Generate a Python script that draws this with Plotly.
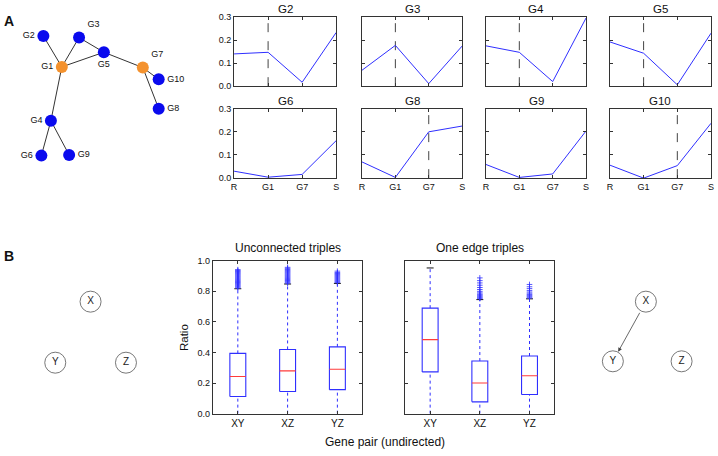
import plotly.graph_objects as go

W, H = 718, 456
FONT = "Liberation Sans, Arial, Helvetica, sans-serif"

# ---------------- Data: panel A network ----------------
node_names = ["G1", "G2", "G3", "G4", "G5", "G6", "G7", "G8", "G9", "G10"]
hub_nodes = ["G1", "G7"]
edges = [("G2", "G1"), ("G3", "G1"), ("G3", "G5"), ("G1", "G5"), ("G5", "G7"),
         ("G7", "G10"), ("G7", "G8"), ("G1", "G4"), ("G4", "G6"), ("G4", "G9")]

# ---------------- Data: panel A profiles ----------------
profile_labels = ["R", "G1", "G7", "S"]
gene_panels = ["G2", "G3", "G4", "G5", "G6", "G8", "G9", "G10"]
vals_G2 = [0.140, 0.147, 0.017, 0.233]
vals_G3 = [0.069, 0.177, 0.011, 0.174]
vals_G4 = [0.175, 0.147, 0.020, 0.296]
vals_G5 = [0.192, 0.143, 0.006, 0.230]
vals_G6 = [0.030, 0.004, 0.016, 0.162]
vals_G8 = [0.070, 0.003, 0.200, 0.225]
vals_G9 = [0.059, 0.003, 0.018, 0.204]
vals_G10 = [0.056, 0.000, 0.054, 0.237]
neighbor_of = {"G2": "G1", "G3": "G1", "G4": "G1", "G5": "G1", "G8": "G7", "G10": "G7"}

# ---------------- Data: panel B boxplots ----------------
pairs = ["XY", "XZ", "YZ"]
unc_lo = [0.0, 0.0, 0.0]
unc_q1 = [0.112, 0.145, 0.157]
unc_med = [0.243, 0.280, 0.290]
unc_q3 = [0.394, 0.420, 0.437]
unc_hi = [0.817, 0.848, 0.852]
unc_out_XY = [0.822, 0.828, 0.834, 0.840, 0.846, 0.852, 0.858, 0.864, 0.870, 0.876, 0.882,
              0.888, 0.894, 0.900, 0.906, 0.912, 0.918, 0.924, 0.930, 0.936, 0.942]
unc_out_XZ = [0.853, 0.859, 0.865, 0.871, 0.877, 0.883, 0.889, 0.895, 0.901, 0.907, 0.913,
              0.919, 0.925, 0.931, 0.937, 0.943, 0.950, 0.957]
unc_out_YZ = [0.857, 0.863, 0.869, 0.875, 0.881, 0.887, 0.893, 0.899, 0.905, 0.911, 0.917,
              0.923, 0.932]

one_lo = [0.0, 0.0, 0.0]
one_q1 = [0.273, 0.077, 0.125]
one_med = [0.484, 0.200, 0.248]
one_q3 = [0.690, 0.344, 0.377]
one_hi = [0.953, 0.746, 0.751]
one_out_XY = []
one_out_XZ = [0.752, 0.758, 0.764, 0.770, 0.776, 0.782, 0.790, 0.800, 0.812, 0.825,
              0.840, 0.855, 0.870, 0.888]
one_out_YZ = [0.756, 0.762, 0.768, 0.774, 0.780, 0.788, 0.796, 0.806, 0.818, 0.830, 0.845]

# ---------------- Layout geometry (pixels) ----------------
node_pos = {"G1": (59.3, 63.3), "G2": (40.7, 31.7), "G3": (76.7, 33.3), "G4": (48.3, 118.3),
            "G5": (101.7, 48.3), "G6": (38.7, 154.0), "G7": (141.0, 64.0), "G8": (157.0, 106.0),
            "G9": (66.7, 153.3), "G10": (157.0, 76.0)}
label_side = {"G1": "middle left", "G2": "middle left", "G3": "top right", "G4": "middle left",
              "G5": "bottom center", "G6": "middle left", "G7": "top right", "G8": "middle right",
              "G9": "middle right", "G10": "middle right"}
tri_left = {"X": (88.3, 303.3), "Y": (52.7, 365.7), "Z": (124.0, 365.7)}
tri_right = {"X": (648.3, 303.3), "Y": (615.0, 364.3), "Z": (684.3, 364.3)}

col_px = [(233, 336), (362, 463), (487, 588), (612, 714)]
row_px = [(12.3, 83), (106, 177)]
box_col_px = [(211.7, 362.3), (405.7, 556)]
box_row_px = (261.5, 417.8)


def fx(p):
    return p / W


def fy(p):
    return 1 - p / H


BLUE = "#2f2fff"
NODE_BLUE = "#0a0aee"
ORANGE = "#f4922e"
RED = "#ff3b3b"
AXC = "#333333"

fig = go.Figure()
layout = dict(width=W, height=H, margin=dict(l=0, r=0, t=0, b=0),
              paper_bgcolor="white", plot_bgcolor="rgba(0,0,0,0)",
              showlegend=False, font=dict(family=FONT, color="#111"))

# overlay axis for diagrams (pixel coordinates)
layout["xaxis"] = dict(domain=[0, 1], range=[0, W], visible=False, fixedrange=True)
layout["yaxis"] = dict(domain=[0, 1], range=[H, 0], visible=False, fixedrange=True)

# network edges
ex, ey = [], []
for a, b in edges:
    ex += [node_pos[a][0], node_pos[b][0], None]
    ey += [node_pos[a][1], node_pos[b][1], None]
fig.add_trace(go.Scatter(x=ex, y=ey, mode="lines", line=dict(color="#333", width=1),
                         xaxis="x", yaxis="y", hoverinfo="skip"))
fig.add_trace(go.Scatter(
    x=[node_pos[n][0] for n in node_names], y=[node_pos[n][1] for n in node_names],
    mode="markers+text", text=node_names, textposition=[label_side[n] for n in node_names],
    textfont=dict(size=9, color="#111"),
    marker=dict(size=12, color=[ORANGE if n in hub_nodes else NODE_BLUE for n in node_names],
                line=dict(width=0)),
    xaxis="x", yaxis="y", hoverinfo="skip"))

# triple diagrams
for tri in (tri_left, tri_right):
    names = list(tri.keys())
    fig.add_trace(go.Scatter(
        x=[tri[k][0] for k in names], y=[tri[k][1] for k in names], mode="markers+text",
        text=names, textposition="middle center", textfont=dict(size=10, color="#222"),
        marker=dict(size=21, color="white", line=dict(color="#555", width=0.8)),
        xaxis="x", yaxis="y", hoverinfo="skip"))

annotations = []
annotations.append(dict(x=tri_right["Y"][0], y=tri_right["Y"][1], ax=tri_right["X"][0],
                        ay=tri_right["X"][1], xref="x", yref="y", axref="x", ayref="y",
                        text="", showarrow=True, arrowhead=2, arrowsize=1, arrowwidth=0.8,
                        arrowcolor="#444", standoff=11, startstandoff=11))

axis_common = dict(showline=True, linecolor=AXC, linewidth=1, mirror="allticks",
                   ticks="inside", ticklen=3, tickcolor=AXC, showgrid=False, zeroline=False,
                   tickfont=dict(size=9, color="#111"), fixedrange=True)

gene_vals = {"G2": vals_G2, "G3": vals_G3, "G4": vals_G4, "G5": vals_G5,
             "G6": vals_G6, "G8": vals_G8, "G9": vals_G9, "G10": vals_G10}
YMAX = 0.3
xi = list(range(len(profile_labels)))
for i, g in enumerate(gene_panels):
    k = i + 2
    r, c = divmod(i, 4)
    x0, x1 = col_px[c]
    y0, y1 = row_px[r]
    layout[f"xaxis{k}"] = dict(axis_common, domain=[fx(x0), fx(x1)], anchor=f"y{k}",
                               range=[0, len(profile_labels) - 1], tickvals=xi,
                               ticktext=profile_labels, showticklabels=(r == 1))
    layout[f"yaxis{k}"] = dict(axis_common, domain=[fy(y1), fy(y0)], anchor=f"x{k}",
                               range=[0, YMAX], tickvals=[0, 0.1, 0.2, 0.3], tickformat=".1f",
                               showticklabels=(c == 0))
    if g in neighbor_of:
        j = profile_labels.index(neighbor_of[g])
        fig.add_trace(go.Scatter(x=[j, j], y=[0, YMAX], mode="lines",
                                 line=dict(color="#444", width=1, dash="dash"),
                                 xaxis=f"x{k}", yaxis=f"y{k}", hoverinfo="skip"))
    fig.add_trace(go.Scatter(x=xi, y=gene_vals[g], mode="lines",
                             line=dict(color=BLUE, width=1), cliponaxis=False,
                             xaxis=f"x{k}", yaxis=f"y{k}", hoverinfo="skip"))
    annotations.append(dict(text=g, x=fx((x0 + x1) / 2), y=fy(y0), xref="paper", yref="paper",
                            xanchor="center", yanchor="bottom", yshift=0, showarrow=False,
                            font=dict(size=11.5, color="#111")))

# box panels
HW = 0.16
CAP = 0.07
box_sets = [
    ("Unconnected triples", unc_lo, unc_q1, unc_med, unc_q3, unc_hi,
     [unc_out_XY, unc_out_XZ, unc_out_YZ]),
    ("One edge triples", one_lo, one_q1, one_med, one_q3, one_hi,
     [one_out_XY, one_out_XZ, one_out_YZ]),
]
for b, (title, lo, q1, med, q3, hi, outs) in enumerate(box_sets):
    k = 10 + b
    x0, x1 = box_col_px[b]
    y0, y1 = box_row_px
    layout[f"xaxis{k}"] = dict(axis_common, domain=[fx(x0), fx(x1)], anchor=f"y{k}",
                               range=[0.5, len(pairs) + 0.5], tickvals=[1, 2, 3],
                               ticktext=pairs, tickfont=dict(size=10, color="#111"))
    layout[f"yaxis{k}"] = dict(axis_common, domain=[fy(y1), fy(y0)], anchor=f"x{k}",
                               range=[0, 1.0], tickvals=[0, 0.2, 0.4, 0.6, 0.8, 1.0],
                               tickformat=".1f", showticklabels=(b == 0))
    wx, wy, bx, by, mx, my, cx, cy = [], [], [], [], [], [], [], []
    for j in range(len(pairs)):
        p = j + 1
        wx += [p, p, None, p, p, None]
        wy += [q3[j], hi[j], None, lo[j], q1[j], None]
        bx += [p - HW, p + HW, p + HW, p - HW, p - HW, None]
        by += [q1[j], q1[j], q3[j], q3[j], q1[j], None]
        mx += [p - HW, p + HW, None]
        my += [med[j], med[j], None]
        cx += [p - CAP, p + CAP, None]
        cy += [hi[j], hi[j], None]
    ax_kw = dict(xaxis=f"x{k}", yaxis=f"y{k}", hoverinfo="skip")
    fig.add_trace(go.Scatter(x=wx, y=wy, mode="lines",
                             line=dict(color=BLUE, width=1, dash="dot"), **ax_kw))
    fig.add_trace(go.Scatter(x=cx, y=cy, mode="lines", line=dict(color="#111", width=1), **ax_kw))
    fig.add_trace(go.Scatter(x=bx, y=by, mode="lines", line=dict(color=BLUE, width=1.1), **ax_kw))
    fig.add_trace(go.Scatter(x=mx, y=my, mode="lines", line=dict(color=RED, width=1.1), **ax_kw))
    ox, oy = [], []
    for j, o in enumerate(outs):
        ox += [j + 1] * len(o)
        oy += o
    if ox:
        fig.add_trace(go.Scatter(x=ox, y=oy, mode="markers",
                                 marker=dict(symbol="cross-thin", size=4,
                                             line=dict(color=BLUE, width=0.8)), **ax_kw))
    annotations.append(dict(text=title, x=fx((x0 + x1) / 2), y=fy(y0), xref="paper",
                            yref="paper", xanchor="center", yanchor="bottom", yshift=4,
                            showarrow=False, font=dict(size=12, color="#111")))

annotations += [
    dict(text="Ratio", x=fx(182), y=fy(340), xref="paper", yref="paper", textangle=-90,
         showarrow=False, font=dict(size=11.5, color="#111"), xanchor="center", yanchor="middle"),
    dict(text="Gene pair (undirected)", x=fx(385), y=fy(447), xref="paper", yref="paper",
         showarrow=False, font=dict(size=12, color="#111"), xanchor="center", yanchor="middle"),
    dict(text="<b>A</b>", x=fx(6), y=fy(16), xref="paper", yref="paper", showarrow=False,
         font=dict(size=14, color="#111"), xanchor="center", yanchor="middle"),
    dict(text="<b>B</b>", x=fx(6), y=fy(257), xref="paper", yref="paper", showarrow=False,
         font=dict(size=14, color="#111"), xanchor="center", yanchor="middle"),
]
layout["annotations"] = annotations
fig.update_layout(**layout)
fig.write_html("out.html", config={"displayModeBar": False, "staticPlot": True},
               post_script="document.body.style.margin='0';")
